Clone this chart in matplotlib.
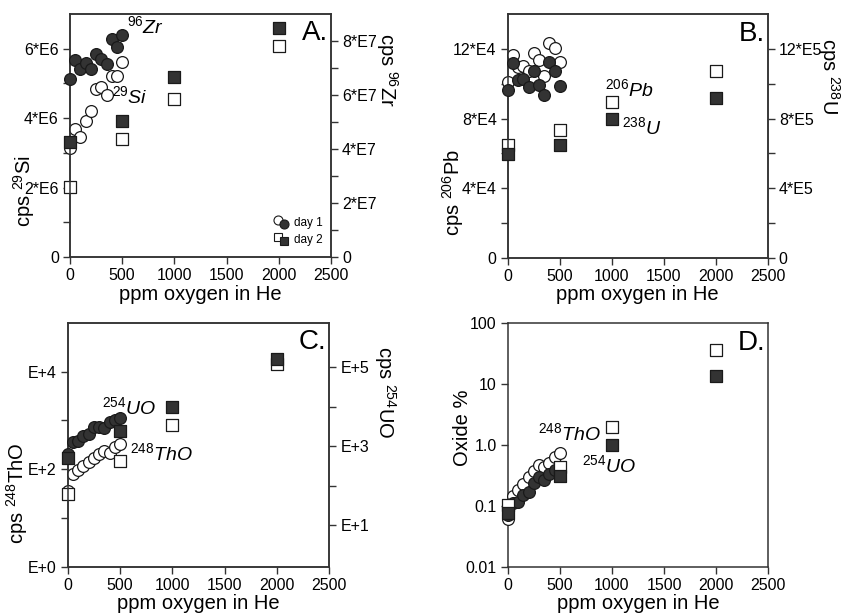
import matplotlib

matplotlib.use("Agg")
import matplotlib.pyplot as plt
from matplotlib.legend_handler import HandlerBase
from matplotlib.lines import Line2D
from matplotlib.ticker import FixedLocator, NullFormatter

plt.rcParams["font.family"] = ["Liberation Sans", "DejaVu Sans"]
plt.rcParams["mathtext.fontset"] = "custom"
plt.rcParams["mathtext.rm"] = "Liberation Sans"
plt.rcParams["mathtext.it"] = "Liberation Sans:italic"

# oxygen added to He (ppm)
ppm_day1 = [0, 50, 100, 150, 200, 250, 300, 350, 400, 450, 500]
ppm_day2 = [0, 500, 1000, 2000]

# A. 29Si (left) and 96Zr (right)
si29_day1 = [3.15e6, 3.69e6, 3.46e6, 3.93e6, 4.21e6, 4.85e6, 4.89e6, 4.66e6, 5.22e6, 5.20e6, 5.61e6]
zr96_day1 = [6.58e7, 7.31e7, 6.96e7, 7.19e7, 6.98e7, 7.53e7, 7.32e7, 7.13e7, 8.06e7, 7.78e7, 8.24e7]
si29_day2 = [2.03e6, 3.41e6, 4.55e6, 6.09e6]
zr96_day2 = [4.25e7, 5.04e7, 6.67e7, 8.49e7]

# B. 206Pb (left) and 238U (right)
pb206_day1 = [10.08e4, 11.68e4, 10.95e4, 11.04e4, 10.75e4, 11.76e4, 11.39e4, 10.46e4, 12.35e4, 12.06e4, 11.27e4]
u238_day1 = [9.65e5, 11.18e5, 10.21e5, 10.25e5, 9.79e5, 10.72e5, 9.92e5, 9.36e5, 11.27e5, 10.72e5, 9.88e5]
pb206_day2 = [6.51e4, 7.34e4, 8.96e4, 10.72e4]
u238_day2 = [5.99e5, 6.50e5, 7.96e5, 9.16e5]

# C. 248ThO (left) and 254UO (right)
tho248_day1 = [36, 78, 96, 116, 140, 170, 205, 230, 215, 290, 320]
uo254_day1 = [650, 1290, 1350, 1810, 1980, 2960, 3080, 2800, 4100, 4540, 5000]
tho248_day2 = [31, 148, 813, 14500]
uo254_day2 = [490, 2400, 9600, 155000]

# D. oxide %
tho_pct_day1 = [0.06, 0.145, 0.18, 0.23, 0.30, 0.38, 0.47, 0.44, 0.51, 0.63, 0.73]
uo_pct_day1 = [0.07, 0.11, 0.118, 0.15, 0.17, 0.24, 0.30, 0.27, 0.33, 0.39, 0.42]
tho_pct_day2 = [0.103, 0.43, 2.0, 36]
uo_pct_day2 = [0.076, 0.31, 1.0, 13.5]

DARK = "#333333"
EDGE = "#1a1a1a"
TICK_FS = 11.5
LABEL_FS = 14.5
NOTE_FS = 14
CIRC = dict(marker="o", s=72, linewidths=0.9, edgecolors=EDGE, clip_on=False)
SQR = dict(marker="s", s=64, linewidths=0.9, edgecolors=EDGE, clip_on=False)


def open_filled(ax, x, y, marker_kw, filled, z):
    ax.scatter(x, y, facecolors=DARK if filled else "white", zorder=z, **marker_kw)


def style_axis(ax, major, minor, labels):
    ax.yaxis.set_major_locator(FixedLocator(major))
    ax.yaxis.set_minor_locator(FixedLocator(minor))
    ax.yaxis.set_minor_formatter(NullFormatter())
    ax.yaxis.set_ticklabels(labels)


def base(ax):
    ax.set_xlim(0, 2500)
    ax.set_xticks([0, 500, 1000, 1500, 2000, 2500])
    ax.set_xlabel("ppm oxygen in He", fontsize=LABEL_FS, labelpad=1)
    for sp in ax.spines.values():
        sp.set_linewidth(1.1)
        sp.set_color("#333333")
    ax.tick_params(which="both", direction="out", length=5, width=1.0,
                   labelsize=TICK_FS, color="#333333", pad=3)


class PairHandler(HandlerBase):
    # open + filled marker drawn slightly offset, as in the day 1 / day 2 key
    def create_artists(self, legend, orig_handle, xdescent, ydescent,
                       width, height, fontsize, trans):
        cx = width / 2 - xdescent
        cy = height / 2 - ydescent
        arts = []
        for h, (dx, dy) in zip(orig_handle, [(-2.0, 1.5), (2.0, -1.5)]):
            m = Line2D([cx + dx], [cy + dy], linestyle="none", marker=h.get_marker(),
                       markersize=h.get_markersize(),
                       markerfacecolor=h.get_markerfacecolor(),
                       markeredgecolor=h.get_markeredgecolor(),
                       markeredgewidth=0.8)
            m.set_transform(trans)
            arts.append(m)
        return arts


fig = plt.figure(figsize=(8.43, 6.14), dpi=100)
axA = fig.add_axes([0.0830, 0.5814, 0.3096, 0.3958])
axB = fig.add_axes([0.6023, 0.5803, 0.3084, 0.3964])
axC = fig.add_axes([0.0803, 0.0770, 0.3103, 0.3974])
axD = fig.add_axes([0.6023, 0.0770, 0.3091, 0.3964])

# ---- A ----
base(axA)
axA2 = axA.twinx()
base(axA2)
axA.set_ylim(0, 7e6)
style_axis(axA, [0, 2e6, 4e6, 6e6], [1e6, 3e6, 5e6], ["0", "2*E6", "4*E6", "6*E6"])
axA2.set_ylim(0, 9e7)
style_axis(axA2, [0, 2e7, 4e7, 6e7, 8e7], [1e7, 3e7, 5e7, 7e7],
           ["0", "2*E7", "4*E7", "6*E7", "8*E7"])
open_filled(axA, ppm_day1, si29_day1, CIRC, False, 3)
open_filled(axA, ppm_day2, si29_day2, SQR, False, 4)
open_filled(axA2, ppm_day1, zr96_day1, CIRC, True, 3)
open_filled(axA2, ppm_day2, zr96_day2, SQR, True, 4)
axA.set_ylabel(r"cps $^{29}$Si", fontsize=LABEL_FS, va="center")
axA.yaxis.set_label_coords(-0.175, 0.27)
axA2.set_ylabel(r"cps $^{96}$Zr", fontsize=LABEL_FS, rotation=270, va="center")
axA2.yaxis.set_label_coords(1.215, 0.77)
axA.text(546, 6.64e6, r"$\mathit{^{96}Zr}$", fontsize=NOTE_FS, va="center")
axA.text(402, 4.62e6, r"$\mathit{^{29}Si}$", fontsize=NOTE_FS, va="center")
axA.text(0.99, 0.92, "A.", transform=axA.transAxes, fontsize=20, ha="right", va="center")
h1 = (Line2D([], [], marker="o", ls="none", markersize=6.5, markerfacecolor="white", markeredgecolor=EDGE),
      Line2D([], [], marker="o", ls="none", markersize=6.5, markerfacecolor=DARK, markeredgecolor=EDGE))
h2 = (Line2D([], [], marker="s", ls="none", markersize=6, markerfacecolor="white", markeredgecolor=EDGE),
      Line2D([], [], marker="s", ls="none", markersize=6, markerfacecolor=DARK, markeredgecolor=EDGE))
axA2.legend([h1, h2], ["day 1", "day 2"], handler_map={tuple: PairHandler()},
            loc="lower right", bbox_to_anchor=(1.0, 0.01), frameon=False,
            fontsize=8.5, handlelength=1.2, handletextpad=0.5, labelspacing=0.45,
            borderaxespad=0.3)

# ---- B ----
base(axB)
axB2 = axB.twinx()
base(axB2)
axB.set_ylim(0, 14e4)
style_axis(axB, [0, 4e4, 8e4, 12e4], [2e4, 6e4, 10e4], ["0", "4*E4", "8*E4", "12*E4"])
axB2.set_ylim(0, 14e5)
style_axis(axB2, [0, 4e5, 8e5, 12e5], [2e5, 6e5, 10e5], ["0", "4*E5", "8*E5", "12*E5"])
open_filled(axB, ppm_day1, pb206_day1, CIRC, False, 3)
open_filled(axB, ppm_day2, pb206_day2, SQR, False, 4)
open_filled(axB2, ppm_day1, u238_day1, CIRC, True, 3)
open_filled(axB2, ppm_day2, u238_day2, SQR, True, 4)
axB.set_ylabel(r"cps $^{206}$Pb", fontsize=LABEL_FS, va="center")
axB.yaxis.set_label_coords(-0.21, 0.266)
axB2.set_ylabel(r"cps $^{238}$U", fontsize=LABEL_FS, rotation=270, va="center")
axB2.yaxis.set_label_coords(1.235, 0.746)
axB.text(936, 9.69e4, r"$\mathit{^{206}Pb}$", fontsize=NOTE_FS, va="center")
axB.text(1099, 7.5e4, r"$\mathit{^{238}U}$", fontsize=NOTE_FS, va="center")
axB.text(0.99, 0.92, "B.", transform=axB.transAxes, fontsize=20, ha="right", va="center")

# ---- C ----
base(axC)
axC2 = axC.twinx()
base(axC2)
axC.set_yscale("log")
axC.set_ylim(1, 1e5)
style_axis(axC, [1, 1e2, 1e4], [1e1, 1e3], ["E+0", "E+2", "E+4"])
axC2.set_yscale("log")
axC2.set_ylim(10 ** -0.05, 10 ** 6.12)
style_axis(axC2, [1e1, 1e3, 1e5], [1e2, 1e4], ["E+1", "E+3", "E+5"])
open_filled(axC, ppm_day1, tho248_day1, CIRC, False, 3)
open_filled(axC, ppm_day2, tho248_day2, SQR, False, 4)
open_filled(axC2, ppm_day1, uo254_day1, CIRC, True, 3)
open_filled(axC2, ppm_day2, uo254_day2, SQR, True, 4)
axC.set_ylabel(r"cps $^{248}$ThO", fontsize=LABEL_FS, va="center")
axC.yaxis.set_label_coords(-0.195, 0.30)
axC2.set_ylabel(r"cps $^{254}$UO", fontsize=LABEL_FS, rotation=270, va="center")
axC2.yaxis.set_label_coords(1.213, 0.716)
axC.text(328, 1900, r"$\mathit{^{254}UO}$", fontsize=NOTE_FS, va="center")
axC.text(595, 216, r"$\mathit{^{248}ThO}$", fontsize=NOTE_FS, va="center")
axC.text(0.99, 0.92, "C.", transform=axC.transAxes, fontsize=20, ha="right", va="center")

# ---- D ----
base(axD)
axD.set_yscale("log")
axD.set_ylim(0.01, 100)
style_axis(axD, [0.01, 0.1, 1, 10, 100], [], ["0.01", "0.1", "1.0", "10", "100"])
open_filled(axD, ppm_day1, tho_pct_day1, CIRC, False, 3)
open_filled(axD, ppm_day1, uo_pct_day1, CIRC, True, 4)
open_filled(axD, ppm_day2, tho_pct_day2, SQR, False, 5)
open_filled(axD, ppm_day2, uo_pct_day2, SQR, True, 6)
axD.set_ylabel("Oxide %", fontsize=LABEL_FS, va="center")
axD.yaxis.set_label_coords(-0.172, 0.57)
axD.text(291, 1.57, r"$\mathit{^{248}ThO}$", fontsize=NOTE_FS, va="center")
axD.text(713, 0.47, r"$\mathit{^{254}UO}$", fontsize=NOTE_FS, va="center")
axD.text(0.99, 0.92, "D.", transform=axD.transAxes, fontsize=20, ha="right", va="center")

fig.savefig("out.png", dpi=100)
